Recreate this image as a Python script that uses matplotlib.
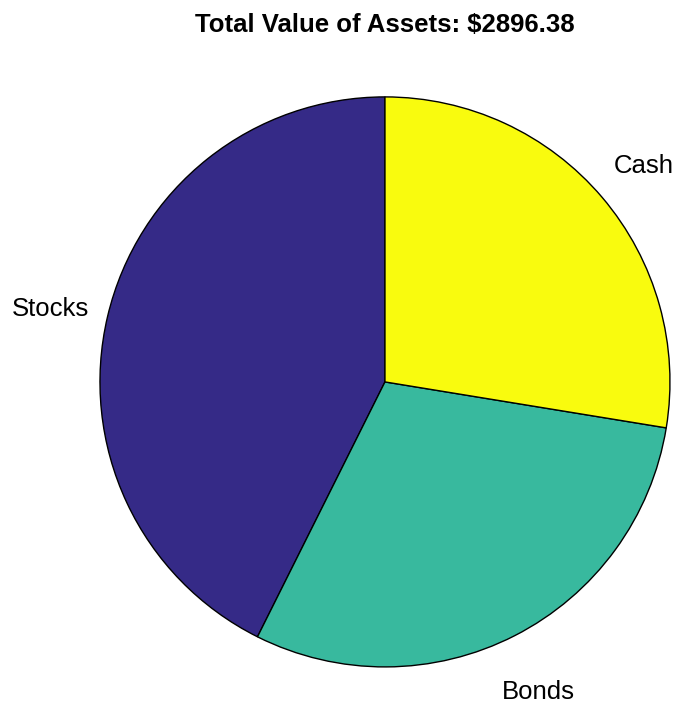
import numpy as np
import matplotlib
matplotlib.use("Agg")
import matplotlib.pyplot as plt
from matplotlib.transforms import ScaledTranslation

categories = ["Stocks", "Bonds", "Cash"]
values = [1234.40, 863.22, 798.76]
colors = ["#352a87", "#38b99e", "#f9fb0e"]
title_text = "Total Value of Assets: $2896.38"

plt.rcParams['font.family'] = ['Liberation Sans', 'DejaVu Sans']

fig = plt.figure(figsize=(6.81, 7.10), dpi=100)
ax = fig.add_axes([0.1468, 0.0606, 0.837, 0.803])
wedges, texts = ax.pie(values, labels=categories, colors=colors, startangle=90,
                       counterclock=True, radius=1.0, labeldistance=1.2,
                       wedgeprops=dict(edgecolor='black', linewidth=1.0),
                       textprops=dict(fontsize=18.5))
offset = ScaledTranslation(-2 / 100, -6 / 100, fig.dpi_scale_trans)
for t in texts:
    t.set_ha('center')
    t.set_va('center')
    t.set_transform(ax.transData + offset)
ax.set_xlim(-1, 1)
ax.set_ylim(-1, 1)
ax.set_aspect('equal')
ax.axis('off')
fig.text(0.565, 1 - 25 / 710, title_text, ha='center', va='center',
         fontsize=18.5, fontweight='bold')
fig.savefig("out.png", dpi=100, facecolor='white')
